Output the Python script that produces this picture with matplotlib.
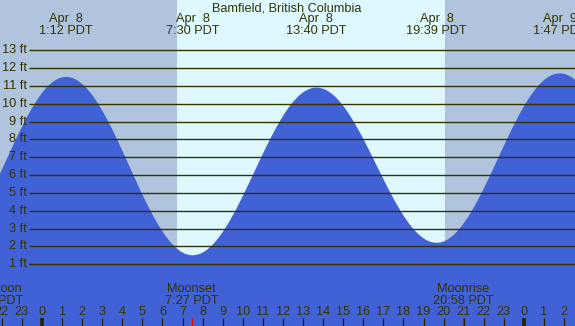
import numpy as np
import matplotlib
matplotlib.use("Agg")
import matplotlib.pyplot as plt

# ---- data ----
title = "Bamfield, British Columbia"
# tide extremes (hours from Apr 8 00:00 PDT, height ft)
ext_hours = [-4.75, 1.2, 7.5, 13.667, 19.65, 25.783, 32.0]
ext_heights = [2.2, 11.5, 1.5, 10.9, 2.2, 11.7, 1.8]
top_hours = [1.2, 7.5, 13.667, 19.65, 25.783]
top_dates = ["Apr  8", "Apr  8", "Apr  8", "Apr  8", "Apr  9"]
top_times = ["1:12 PDT", "7:30 PDT", "13:40 PDT", "19:39 PDT", "1:47 PDT"]
sunrise = 6.72
sunset = 20.07
moon_hours = [7.45, 20.967]
moon_names = ["Moonset", "Moonrise"]
moon_times = ["7:27 PDT", "20:58 PDT"]
ft_levels = list(range(1, 14))
hour_ticks = list(range(-2, 27))

# ---- geometry (pixel mapping) ----
W, H = 575, 326
X0, PXH = 42.0, 20.08     # px of hour 0, px per hour
Y0, PXF = 282.0, 17.83    # px of 0 ft, px per ft

def hx(px):
    return (px - X0) / PXH

def fy(py):
    return (Y0 - py) / PXF

night_c = "#b0c4de"
day_c = "#ddf8ff"
water_c = "#4161d6"
line_c = "#333300"
txt_c = "#333300"

plt.rcParams['font.family'] = ['Liberation Sans', 'DejaVu Sans']
fs = 9.2

fig = plt.figure(figsize=(W / 100, H / 100), dpi=100)
ax = fig.add_axes([0, 0, 1, 1])
xmin, xmax = hx(0), hx(W)
ymin, ymax = fy(H), fy(0)
ax.set_xlim(xmin, xmax)
ax.set_ylim(ymin, ymax)
ax.axis("off")

# background
ax.axvspan(xmin, sunrise, color=night_c, lw=0, zorder=0)
ax.axvspan(sunrise, sunset, color=day_c, lw=0, zorder=0)
ax.axvspan(sunset, xmax, color=night_c, lw=0, zorder=0)

# tide curve (cosine between extremes)
t = np.linspace(xmin, xmax, 1200)
h = np.empty_like(t)
for i in range(len(ext_hours) - 1):
    a, b = ext_hours[i], ext_hours[i + 1]
    ha, hb = ext_heights[i], ext_heights[i + 1]
    m = (t >= a) & (t <= b)
    f = (t[m] - a) / (b - a)
    h[m] = ha + (hb - ha) * (1 - np.cos(np.pi * f)) / 2
ax.fill_between(t, ymin, h, color=water_c, lw=0, zorder=1)

# horizontal level lines
for lv in ft_levels:
    ax.plot([hx(29), xmax], [lv, lv], color=line_c, lw=1.0, zorder=2,
            solid_capstyle="butt")
    ax.text(hx(27), lv, f"{lv} ft", ha="right", va="center",
            fontsize=fs, color=txt_c, zorder=3)

# title & top labels
ax.text(hx(287), fy(8), title, ha="center", va="center", fontsize=fs, color=txt_c)
for hr, d, tm in zip(top_hours, top_dates, top_times):
    ax.text(hr, fy(19), d, ha="center", va="center", fontsize=fs, color=txt_c)
    ax.text(hr, fy(31), tm, ha="center", va="center", fontsize=fs, color=txt_c)

# moon labels
for hr, nm, tm in zip(moon_hours, moon_names, moon_times):
    ax.text(hr, fy(289), nm, ha="center", va="center", fontsize=fs, color=txt_c)
    ax.text(hr, fy(301), tm, ha="center", va="center", fontsize=fs, color=txt_c)
    ax.plot([hr, hr], [fy(318), ymin], color="red", lw=0.9, zorder=3,
            solid_capstyle="butt")
# partially visible label from the previous day at the left edge
ax.text(hx(22), fy(289), "Moon", ha="right", va="center", fontsize=fs, color=txt_c)
ax.text(hx(23), fy(301), "PDT", ha="right", va="center", fontsize=fs, color=txt_c)

# hour ticks
for hr in hour_ticks:
    ax.text(hr, fy(312), str(hr % 24), ha="center", va="center",
            fontsize=fs, color=txt_c)
    lw = 2.6 if hr % 24 == 0 else 0.9
    ax.plot([hr, hr], [fy(318), ymin], color="#222200", lw=lw, zorder=3,
            solid_capstyle="butt")

fig.savefig("out.png", dpi=100)
